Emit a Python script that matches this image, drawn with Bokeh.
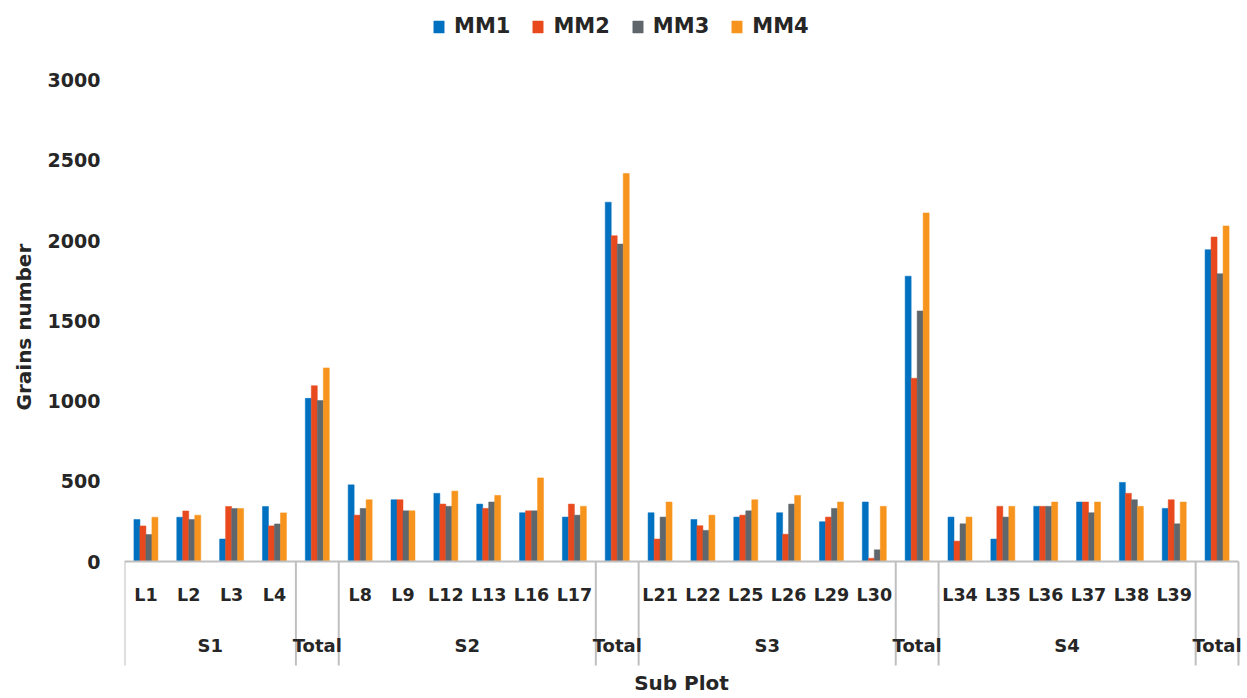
from bokeh.plotting import figure
from bokeh.models import ColumnDataSource, Range1d, FixedTicker, Legend, LegendItem, Title
from bokeh.transform import dodge
from bokeh.core.properties import value
from bokeh.embed import file_html
from bokeh.resources import INLINE

# ---------------- data ----------------
categories = ["L1", "L2", "L3", "L4", "Total",
              "L8", "L9", "L12", "L13", "L16", "L17", "Total",
              "L21", "L22", "L25", "L26", "L29", "L30", "Total",
              "L34", "L35", "L36", "L37", "L38", "L39", "Total"]
groups = ["S1", "Total", "S2", "Total", "S3", "Total", "S4", "Total"]
group_sizes = [4, 1, 6, 1, 6, 1, 6, 1]

mm1 = [262, 276, 140, 343, 1017,
       478, 385, 425, 358, 304, 277, 2240,
       304, 262, 277, 304, 248, 371, 1779,
       277, 140, 344, 371, 493, 331, 1944]
mm2 = [222, 315, 343, 222, 1096,
       289, 385, 358, 331, 316, 358, 2031,
       140, 223, 289, 170, 277, 20, 1142,
       127, 344, 344, 371, 425, 385, 2023]
mm3 = [168, 262, 330, 234, 1003,
       331, 316, 344, 371, 316, 289, 1979,
       277, 194, 316, 358, 331, 73, 1562,
       235, 277, 344, 304, 385, 235, 1794]
mm4 = [276, 289, 330, 303, 1207,
       385, 316, 439, 412, 521, 344, 2419,
       371, 289, 385, 412, 371, 344, 2173,
       277, 344, 371, 371, 344, 371, 2092]
series = ["MM1", "MM2", "MM3", "MM4"]
y_ticks = [0, 500, 1000, 1500, 2000, 2500, 3000]
y_title = "Grains number"
x_title = "Sub Plot"

colors = ["#0070C0", "#E84A1E", "#5F676C", "#F7941D"]
FONT = "DejaVu Sans"
TXT = "#262626"

# ---------------- layout helpers ----------------
FIG_H = 696
PIX_ZERO = 561.0       # picture y of value 0
UNITS_PER_PX = 6.234   # data units per pixel
N = len(categories)
PX_PER_CAT = (1238 - 125) / N


def ydata(pix_y):
    return (PIX_ZERO - pix_y) * UNITS_PER_PX


x = [i + 0.5 for i in range(N)]
src = ColumnDataSource(dict(x=x, cat=categories, MM1=mm1, MM2=mm2, MM3=mm3, MM4=mm4))

p = figure(width=1245, height=FIG_H,
           x_range=Range1d(0, N + 7 / PX_PER_CAT),
           y_range=Range1d(ydata(FIG_H), ydata(0)),
           x_axis_location=None,
           min_border_left=124, min_border_right=0,
           min_border_top=0, min_border_bottom=0,
           toolbar_location=None, output_backend="svg")
p.outline_line_color = None
p.xgrid.visible = False
p.ygrid.visible = False
p.background_fill_color = "white"

bar_w = 0.14
offsets = [-0.21, -0.07, 0.07, 0.21]
renderers = []
for s, c, off in zip(series, colors, offsets):
    r = p.vbar(x=dodge("x", off), top=s, width=bar_w, source=src,
               fill_color=c, line_color=c, line_width=0.5)
    renderers.append(r)

# baseline and separators
p.segment(x0=[0], y0=[0], x1=[N], y1=[0],
          line_color="#BFBFBF", line_width=2)
bounds = [0]
for g in group_sizes:
    bounds.append(bounds[-1] + g)
p.segment(x0=bounds, y0=[0] * len(bounds), x1=bounds, y1=[ydata(665)] * len(bounds),
          line_color="#BFBFBF", line_width=2)

# sub-category labels
sub_x = [xi for xi, c in zip(x, categories) if c != "Total"]
sub_t = [c for c in categories if c != "Total"]
p.text(x=sub_x, y=[ydata(594)] * len(sub_x), text=sub_t,
       text_font=value(FONT), text_font_style="bold", text_font_size="17.5px",
       text_color=TXT, text_align="center", text_baseline="middle")

# group labels
g_x = [(bounds[i] + bounds[i + 1]) / 2 for i in range(len(groups))]
p.text(x=g_x, y=[ydata(645)] * len(g_x), text=groups,
       text_font=value(FONT), text_font_style="bold", text_font_size="18px",
       text_color=TXT, text_align="center", text_baseline="middle")

# x axis title
p.text(x=[N / 2], y=[ydata(682)], text=[x_title],
       text_font=value(FONT), text_font_style="bold", text_font_size="20px",
       text_color=TXT, text_align="center", text_baseline="middle")

# y axis
ya = p.yaxis[0]
ya.ticker = FixedTicker(ticks=y_ticks)
ya.axis_line_color = None
ya.major_tick_line_color = None
ya.minor_tick_line_color = None
ya.major_label_standoff = 18
ya.major_label_text_font = FONT
ya.major_label_text_font_style = "bold"
ya.major_label_text_font_size = "19px"
ya.major_label_text_color = TXT

# y axis title, positioned along the 0..3000 span like the reference
p.add_layout(Title(text=y_title, align="left", offset=FIG_H - 410, standoff=18,
                   text_font=FONT, text_font_style="bold", text_font_size="20px",
                   text_color=TXT), "left")

legend = Legend(items=[LegendItem(label=s, renderers=[r]) for s, r in zip(series, renderers)],
                orientation="horizontal", location=(308, FIG_H - 38),
                border_line_color=None, background_fill_alpha=0,
                glyph_width=13, glyph_height=15, label_standoff=9, spacing=21,
                label_height=22, padding=0, margin=0,
                label_text_font=FONT, label_text_font_style="bold",
                label_text_font_size="21px", label_text_color=TXT)
p.add_layout(legend)

open("out.html", "w").write(file_html(p, INLINE))
